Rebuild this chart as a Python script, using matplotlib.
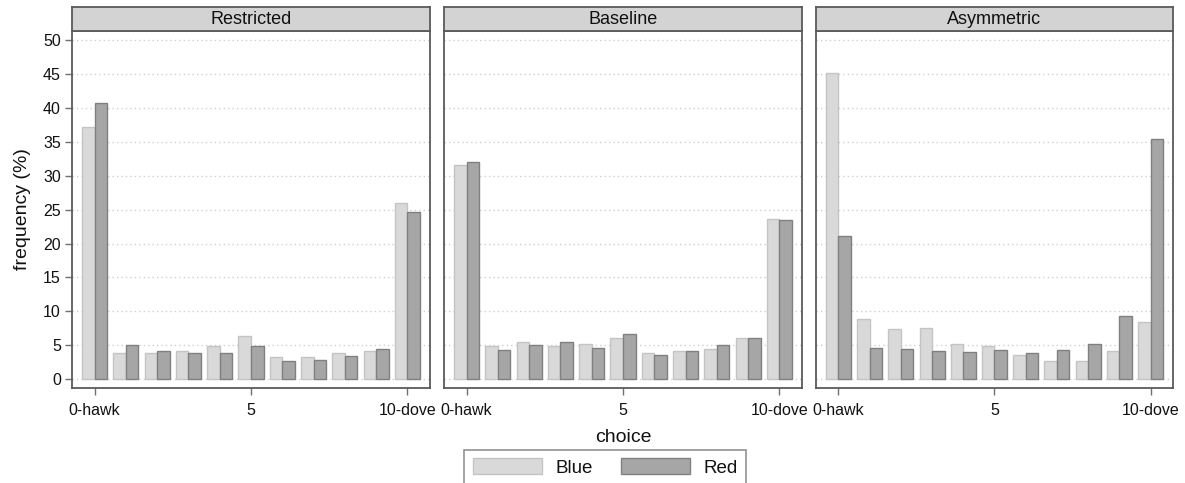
import matplotlib
matplotlib.use("Agg")
import matplotlib.pyplot as plt
import numpy as np

plt.rcParams['font.family'] = ['Liberation Sans', 'DejaVu Sans']

choices = list(range(11))
panels = ["Restricted", "Baseline", "Asymmetric"]
blue_restricted = [37.2, 3.9, 3.9, 4.1, 4.8, 6.4, 3.2, 3.3, 3.8, 4.1, 26.0]
red_restricted = [40.8, 5.0, 4.1, 3.9, 3.9, 4.8, 2.7, 2.8, 3.4, 4.5, 24.6]
blue_baseline = [31.6, 4.8, 5.5, 4.9, 5.2, 6.1, 3.9, 4.2, 4.5, 6.1, 23.7]
red_baseline = [32.1, 4.3, 5.0, 5.5, 4.6, 6.7, 3.6, 4.1, 5.0, 6.1, 23.5]
blue_asymmetric = [45.2, 8.8, 7.4, 7.6, 5.2, 4.9, 3.6, 2.7, 2.7, 4.2, 8.4]
red_asymmetric = [21.1, 4.6, 4.4, 4.1, 4.0, 4.3, 3.9, 4.3, 5.2, 9.3, 35.4]
xtick_vals = [0, 5, 10]
xtick_labels = ["0-hawk", "5", "10-dove"]
ytick_vals = list(range(0, 51, 5))

blue_all = [blue_restricted, blue_baseline, blue_asymmetric]
red_all = [red_restricted, red_baseline, red_asymmetric]

W, H = 1185, 483
fig = plt.figure(figsize=(W / 100, H / 100), dpi=100)

panel_px = [(72, 430), (444, 802), (816, 1173)]
ax_top_px, ax_bot_px = 31, 388
strip_top_px = 7

spine_col = "#5a5a5a"
blue_fc, blue_ec = "#d9d9d9", "#c4c4c4"
red_fc, red_ec = "#a6a6a6", "#808080"
txt_col = "#111111"

x = np.array(choices)
for i, (l, r) in enumerate(panel_px):
    ax = fig.add_axes([l / W, 1 - ax_bot_px / H, (r - l) / W, (ax_bot_px - ax_top_px) / H])
    ax.bar(x - 0.2, blue_all[i], width=0.4, color=blue_fc, edgecolor=blue_ec, linewidth=1.0, label="Blue", zorder=2)
    ax.bar(x + 0.2, red_all[i], width=0.4, color=red_fc, edgecolor=red_ec, linewidth=1.0, label="Red", zorder=2)
    ax.set_xlim(-0.72, 10.72)
    ax.set_ylim(-1.33, 51.4)
    ax.set_yticks(ytick_vals)
    ax.set_xticks(xtick_vals)
    ax.set_xticklabels(xtick_labels, fontsize=11.5, color=txt_col)
    for yv in ytick_vals:
        ax.axhline(yv, color="#cfcfcf", linestyle=(0, (1, 2.2)), linewidth=1.0, zorder=1)
    for sp in ax.spines.values():
        sp.set_color(spine_col)
        sp.set_linewidth(1.3)
    ax.tick_params(axis='x', length=5, width=1.0, color="#707070", pad=6)
    if i == 0:
        ax.set_yticklabels([str(v) for v in ytick_vals], fontsize=11.5, color=txt_col)
        ax.tick_params(axis='y', length=5, width=1.0, color="#707070", pad=3)
        ax.set_ylabel("frequency (%)", fontsize=14, color=txt_col, labelpad=9)
    else:
        ax.tick_params(axis='y', length=0, labelleft=False)
    if i == 1:
        ax.set_xlabel("choice", fontsize=14, color=txt_col, labelpad=8)
    sax = fig.add_axes([l / W, 1 - ax_top_px / H, (r - l) / W, (ax_top_px - strip_top_px) / H])
    sax.set_facecolor("#d3d3d3")
    sax.set_xticks([])
    sax.set_yticks([])
    for sp in sax.spines.values():
        sp.set_color(spine_col)
        sp.set_linewidth(1.3)
    sax.text(0.5, 0.5, panels[i], ha="center", va="center", fontsize=13, color=txt_col, transform=sax.transAxes)
    if i == 0:
        handles, labels = ax.get_legend_handles_labels()

leg = fig.legend(handles, labels, loc="upper center", bbox_to_anchor=(605 / W, 1 - 450 / H),
                 ncol=2, fontsize=13.5, frameon=True, fancybox=False, handlelength=3.7,
                 handleheight=0.9, handletextpad=0.7, columnspacing=1.5, borderpad=0.45,
                 borderaxespad=0)
leg.get_frame().set_edgecolor("#777777")
leg.get_frame().set_linewidth(1.2)
for t in leg.get_texts():
    t.set_color(txt_col)

fig.savefig("out.png", dpi=100)
